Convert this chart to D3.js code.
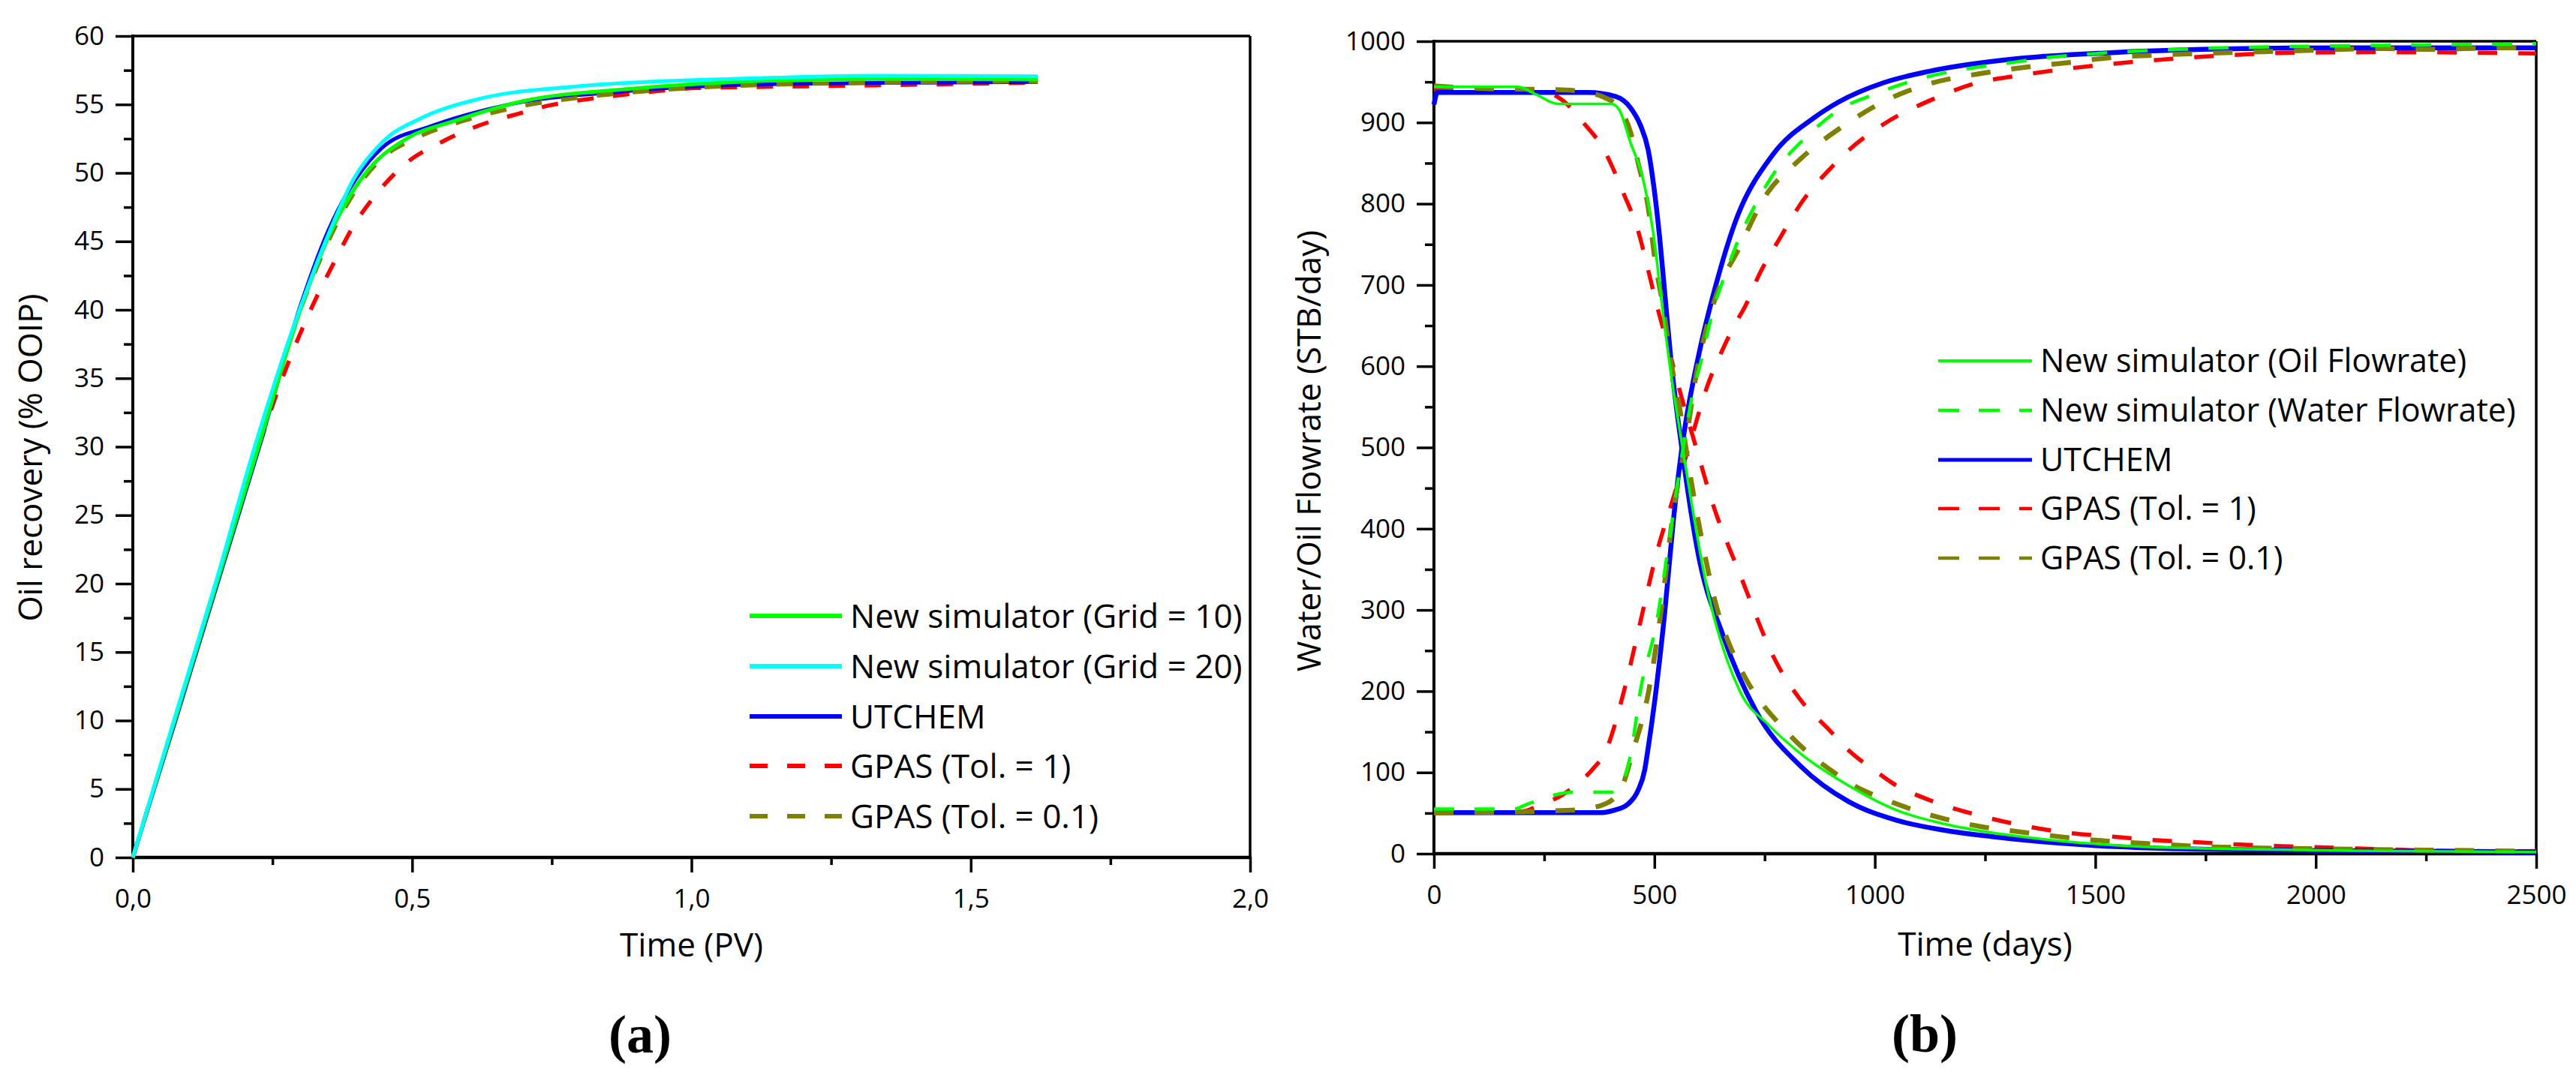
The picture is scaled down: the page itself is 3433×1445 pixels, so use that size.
<!DOCTYPE html>
<html>
<head>
<meta charset="utf-8">
<script src="https://cdn.jsdelivr.net/npm/d3@7"></script>
<style>
    body { margin: 0; background: #fff; }
    svg text { font-family: 'Open Sans', sans-serif; fill: #000; }
    .panel-tag { font-family: 'Liberation Serif', serif; font-weight: bold; }
</style>
</head>
<body>
<div id="chart"></div>
<script>
// (a) oil recovery (% OOIP) vs time (PV)
const recGrid10 = [[0,0],[0.075,10],[0.15,20],[0.225,30],[0.3,40],[0.35,45.3],[0.413,49.8],[0.49,52.5],[0.576,53.8],[0.705,55.3],[0.876,56.1],[1.106,56.69],[1.33,56.86],[1.62,56.82]];
const recGrid20 = [[0,0],[0.075,10.2],[0.15,20.3],[0.216,29.7],[0.294,39.5],[0.353,45.8],[0.396,49.6],[0.448,52.3],[0.516,54.0],[0.619,55.4],[0.79,56.3],[1.106,56.9],[1.33,57.1],[1.62,57.06]];
const recUtchem = [[0,0],[0.075,9.8],[0.15,19.8],[0.225,29.8],[0.3,40.3],[0.35,45.8],[0.4,49.6],[0.448,51.9],[0.533,53.4],[0.662,54.9],[0.876,55.95],[1.106,56.45],[1.33,56.57],[1.62,56.64]];
const recGpas1 = [[0,0],[0.075,10],[0.15,20],[0.2,26.6],[0.25,33],[0.277,36],[0.324,40.5],[0.362,43.6],[0.396,46.2],[0.431,48.2],[0.486,50.6],[0.555,52.3],[0.619,53.45],[0.688,54.3],[0.748,54.95],[0.816,55.4],[0.876,55.7],[0.944,56.0],[1.009,56.2],[1.105,56.27],[1.33,56.4],[1.62,56.6]];
const recGpas01 = [[0,0],[0.075,10],[0.15,20.1],[0.225,30.1],[0.3,40],[0.35,45],[0.4,48.8],[0.45,51.2],[0.5,52.4],[0.6,53.9],[0.7,54.9],[0.8,55.5],[0.9,55.9],[1.0,56.2],[1.2,56.5],[1.62,56.69]];

const xTicksA = [0, 0.5, 1.0, 1.5, 2.0];
const xMinorA = [0.25, 0.75, 1.25, 1.75];
const yTicksA = [0, 5, 10, 15, 20, 25, 30, 35, 40, 45, 50, 55, 60];
const yMinorA = [2.5, 7.5, 12.5, 17.5, 22.5, 27.5, 32.5, 37.5, 42.5, 47.5, 52.5, 57.5];

// (b) water / oil flowrate (STB/day) vs time (days)
const oilNew = [[0,944],[190,944],[230,935],[281,923],[403,923],[420,916],[446,875],[472,835],[499,758],[516,681],[538,589],[562,506],[619,328],[694,200],[760,158],[832,123],[940,84],[1049,53.6],[1157,36.7],[1266,25.8],[1375,18.3],[1592,9],[1809,5.8],[2135,3.4],[2500,2]];
const waterNew = [[0,55],[182,55],[212,61],[272,72],[318,75.7],[406,75.7],[424,84.4],[436,99.7],[447,124.6],[468,200],[505,285],[534,387],[562,489],[590,574],[603,600],[633,669],[664,718],[690,755],[734,804],[768,835],[854,887],[917,915],[1000,935],[1103,954],[1196,965],[1289,972],[1392,980],[1494,984.6],[1588,987.7],[1690,990],[1793,992],[1895,993],[2000,994],[2155,995],[2340,996],[2500,997]];
const oilUtchem = [[0,922],[8,937],[350,937],[412,932],[446,918],[468,897],[486,866],[499,820],[512,758],[525,681],[538,605],[562,500],[599,370],[656,268],[732,174],[832,107.6],[940,64.3],[1049,41.2],[1157,28.9],[1266,21],[1484,10.5],[1700,5.9],[2000,4],[2500,2]];
const waterUtchem = [[0,50.6],[380,50.6],[410,53.6],[440,61],[463,78],[478,103],[485,127],[500,185],[524,300],[543,410],[562,498],[603,620],[638,697],[681,774],[768,860],[860,905],[917,925],[1020,949],[1123,963],[1329,979],[1536,986],[1743,990],[1949,991.7],[2155,992],[2500,992]];
const oilGpas1 = [[0,940],[247,938],[290,928],[316,915],[334,903],[386,866],[429,814],[464,765],[486,718],[507,672],[533,620],[560,565],[600,490],[628,438],[694,344],[778,234],[832,189],[897,152],[941,127],[1006,100],[1038,87.6],[1125,65.8],[1234,47.4],[1332,35],[1435,25.9],[1539,21],[1636,16.6],[1733,14],[1837,11],[1940,9],[2037,7.4],[2135,5.8],[2245,4],[2440,3],[2500,3]];
const waterGpas1 = [[0,51],[200,52],[240,60],[290,72],[330,88],[360,104],[390,127],[431,200],[468,285],[505,370],[543,438],[581,506],[619,574],[656,622],[681,650],[707,675],[737,712],[785,758],[837,804],[902,845],[941,866],[1020,898],[1133,929],[1227,948],[1329,958],[1433,966],[1536,972],[1639,977],[1743,981],[1845,984],[1949,986],[2155,986.5],[2340,986],[2500,985]];
const oilGpas01 = [[0,945],[100,942],[300,940],[334,938],[386,931],[420,918],[446,888],[464,848],[486,795],[502,728],[520,672],[538,605],[560,540],[580,470],[610,380],[638,310],[680,245],[713,210],[788,157],[843,127],[908,99.7],[946,85.9],[1028,65.8],[1136,46],[1239,33.5],[1343,25.9],[1440,19.7],[1539,15],[1636,12],[1733,9],[1837,7.4],[2040,5.8],[2245,4.5],[2500,3]];
const waterGpas01 = [[0,50],[311,53.6],[371,58],[410,69],[432,90],[447,118],[487,200],[516,302],[543,421],[572,510],[595,590],[620,651],[647,697],[690,743],[750,808],[829,854],[932,897],[1028,928],[1133,949],[1237,960],[1340,968],[1443,974],[1536,980],[1639,983],[1743,985],[1938,988],[2144,991],[2245,990],[2440,992],[2500,991]];

const xTicksB = [0, 500, 1000, 1500, 2000, 2500];
const xMinorB = [250, 750, 1250, 1750, 2250];
const yTicksB = [0, 100, 200, 300, 400, 500, 600, 700, 800, 900, 1000];
const yMinorB = [50, 150, 250, 350, 450, 550, 650, 750, 850, 950];

const GREEN = '#00ff00', CYAN = '#00ffff', BLUE = '#0000ff', RED = '#ff0000', OLIVE = '#808000';

const width = 3433, height = 1445;

const svg = d3.select('#chart').append('svg')
    .attr('width', width)
    .attr('height', height)
    .attr('viewBox', `0 0 ${width} ${height}`);

svg.append('rect').attr('width', width).attr('height', height).attr('fill', '#fff');

function drawPanel(p) {
    const x = d3.scaleLinear().domain(p.xDomain).range([p.left, p.right]);
    const y = d3.scaleLinear().domain(p.yDomain).range([p.bottom, p.top]);
    const g = svg.append('g');

    // minor ticks first, then major ticks with labels
    g.append('g')
        .attr('transform', `translate(0,${p.bottom})`)
        .call(d3.axisBottom(x).tickValues(p.xMinor).tickSize(10).tickSizeOuter(0).tickFormat(''))
        .call(a => a.select('.domain').remove());
    g.append('g')
        .attr('transform', `translate(${p.left},0)`)
        .call(d3.axisLeft(y).tickValues(p.yMinor).tickSize(12).tickSizeOuter(0).tickFormat(''))
        .call(a => a.select('.domain').remove());

    const xAxis = g.append('g')
        .attr('transform', `translate(0,${p.bottom})`)
        .call(d3.axisBottom(x).tickValues(p.xTicks).tickSize(20).tickPadding(22)
            .tickSizeOuter(0).tickFormat(p.xFormat));
    const yAxis = g.append('g')
        .attr('transform', `translate(${p.left},0)`)
        .call(d3.axisLeft(y).tickValues(p.yTicks).tickSize(23).tickPadding(15)
            .tickSizeOuter(0).tickFormat(d3.format('d')));

    g.selectAll('.tick line').attr('stroke', '#000').attr('stroke-width', 3.5);
    g.selectAll('.tick text').attr('font-size', 35).attr('font-family', "'Open Sans', sans-serif").attr('fill', '#000');
    xAxis.select('.domain').remove();
    yAxis.select('.domain').remove();

    // frame: heavy left/bottom, lighter top/right
    g.append('line').attr('x1', p.left).attr('x2', p.right).attr('y1', p.top).attr('y2', p.top)
        .attr('stroke', '#000').attr('stroke-width', 3.5);
    g.append('line').attr('x1', p.right).attr('x2', p.right).attr('y1', p.top).attr('y2', p.bottom)
        .attr('stroke', '#000').attr('stroke-width', 3.5);
    g.append('line').attr('x1', p.left).attr('x2', p.left).attr('y1', p.top - 2).attr('y2', p.bottom + 2)
        .attr('stroke', '#000').attr('stroke-width', 4);
    g.append('line').attr('x1', p.left - 2).attr('x2', p.right + 2).attr('y1', p.bottom).attr('y2', p.bottom)
        .attr('stroke', '#000').attr('stroke-width', 4.5);

    const line = d3.line()
        .x(d => x(d[0]))
        .y(d => y(d[1]))
        .curve(d3.curveMonotoneX);

    g.append('g').selectAll('path')
        .data(p.series)
        .enter()
        .append('path')
        .attr('fill', 'none')
        .attr('stroke', d => d.color)
        .attr('stroke-width', d => d.width)
        .attr('stroke-dasharray', d => d.dash || null)
        .attr('stroke-linejoin', 'round')
        .attr('d', d => line(d.values));

    // axis titles
    g.append('text')
        .attr('x', (p.left + p.right) / 2)
        .attr('y', p.xTitleY)
        .attr('dy', '0.36em')
        .attr('text-anchor', 'middle')
        .attr('font-size', p.titleSize)
        .text(p.xTitle);

    g.append('text')
        .attr('transform', `translate(${p.yTitleX},${p.yTitleY}) rotate(-90)`)
        .attr('dy', '0.36em')
        .attr('text-anchor', 'middle')
        .attr('font-size', p.titleSize)
        .text(p.yTitle);

    g.append('text')
        .attr('class', 'panel-tag')
        .attr('x', p.tagX)
        .attr('y', p.tagY)
        .attr('dy', '0.33em')
        .attr('text-anchor', 'middle')
        .attr('font-size', 72)
        .text(p.tag);

    // legend
    const legendItems = g.append('g').selectAll('.legend-item')
        .data(p.legendOrder)
        .enter()
        .append('g')
        .attr('class', 'legend-item')
        .attr('transform', (d, i) => `translate(0,${p.legendRows[i]})`);

    legendItems.append('line')
        .attr('x1', p.legendX1)
        .attr('x2', p.legendX2)
        .attr('stroke', d => d.color)
        .attr('stroke-width', d => d.legendWidth)
        .attr('stroke-dasharray', d => d.legendDash || null);

    legendItems.append('text')
        .attr('x', p.legendTextX)
        .attr('dy', '0.36em')
        .attr('font-size', p.legendSize)
        .text(d => d.label);
}

const a10 = { label: 'New simulator (Grid = 10)', values: recGrid10, color: GREEN, width: 5, legendWidth: 6 };
const a20 = { label: 'New simulator (Grid = 20)', values: recGrid20, color: CYAN, width: 5, legendWidth: 6 };
const aUt = { label: 'UTCHEM', values: recUtchem, color: BLUE, width: 5, legendWidth: 6 };
const aG1 = { label: 'GPAS (Tol. = 1)', values: recGpas1, color: RED, width: 5.5, dash: '22,26', legendWidth: 6, legendDash: '24,26' };
const aG01 = { label: 'GPAS (Tol. = 0.1)', values: recGpas01, color: OLIVE, width: 5.5, dash: '22,26', legendWidth: 6, legendDash: '24,26' };

drawPanel({
    xDomain: [0, 2], yDomain: [0, 60],
    left: 177, right: 1666, top: 48, bottom: 1143,
    xTicks: xTicksA, xMinor: xMinorA, yTicks: yTicksA, yMinor: yMinorA,
    xFormat: d => d3.format('.1f')(d).replace('.', ','),
    series: [aG1, aUt, aG01, a10, a20],
    legendOrder: [a10, a20, aUt, aG1, aG01],
    legendRows: [821, 888, 955, 1021, 1088],
    legendX1: 999, legendX2: 1122, legendTextX: 1133, legendSize: 44,
    titleSize: 44,
    xTitle: 'Time (PV)', xTitleY: 1259,
    yTitle: 'Oil recovery (% OOIP)', yTitleX: 40, yTitleY: 610,
    tag: '(a)', tagX: 853, tagY: 1379
});

const bOil = { label: 'New simulator (Oil Flowrate)', values: oilNew, color: GREEN, width: 3.5, legendWidth: 4 };
const bWater = { label: 'New simulator (Water Flowrate)', values: waterNew, color: GREEN, width: 4.5, dash: '27,27', legendWidth: 4.5, legendDash: '28,26' };
const bUtOil = { label: 'UTCHEM', values: oilUtchem, color: BLUE, width: 6.5, legendWidth: 5 };
const bUtWater = { values: waterUtchem, color: BLUE, width: 6.5 };
const bG1Oil = { label: 'GPAS (Tol. = 1)', values: oilGpas1, color: RED, width: 5.5, dash: '26,28', legendWidth: 4.5, legendDash: '28,26' };
const bG1Water = { values: waterGpas1, color: RED, width: 5.5, dash: '26,28' };
const bG01Oil = { label: 'GPAS (Tol. = 0.1)', values: oilGpas01, color: OLIVE, width: 6.5, dash: '26,28', legendWidth: 4.5, legendDash: '28,26' };
const bG01Water = { values: waterGpas01, color: OLIVE, width: 6.5, dash: '26,28' };

drawPanel({
    xDomain: [0, 2500], yDomain: [0, 1000],
    left: 1911, right: 3380, top: 55, bottom: 1138,
    xTicks: xTicksB, xMinor: xMinorB, yTicks: yTicksB, yMinor: yMinorB,
    xFormat: d3.format('d'),
    series: [bG1Oil, bG1Water, bUtOil, bUtWater, bG01Oil, bG01Water, bWater, bOil],
    legendOrder: [bOil, bWater, bUtOil, bG1Oil, bG01Oil],
    legendRows: [481, 547, 613, 678, 744],
    legendX1: 2583, legendX2: 2708, legendTextX: 2719, legendSize: 43,
    titleSize: 44,
    xTitle: 'Time (days)', xTitleY: 1258,
    yTitle: 'Water/Oil Flowrate (STB/day)', yTitleX: 1744, yTitleY: 601,
    tag: '(b)', tagX: 2565, tagY: 1378
});
</script>
</body>
</html>
